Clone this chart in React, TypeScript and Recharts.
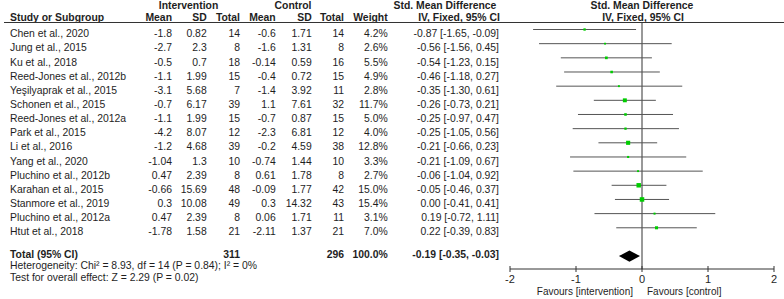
import {
  ComposedChart,
  ReferenceArea,
  ReferenceLine,
  Scatter,
  XAxis,
  YAxis,
} from "recharts";

const studyNames = [
  "Chen et al., 2020",
  "Jung et al., 2015",
  "Ku et al., 2018",
  "Reed-Jones et al., 2012b",
  "Yeşilyaprak et al., 2015",
  "Schonen et al., 2015",
  "Reed-Jones et al., 2012a",
  "Park et al., 2015",
  "Li et al., 2016",
  "Yang et al., 2020",
  "Pluchino et al., 2012b",
  "Karahan et al., 2015",
  "Stanmore et al., 2019",
  "Pluchino et al., 2012a",
  "Htut et al., 2018",
];
const intMean = [-1.8, -2.7, -0.5, -1.1, -3.1, -0.7, -1.1, -4.2, -1.2, -1.04, 0.47, -0.66, 0.3, 0.47, -1.78];
const intSD = [0.82, 2.3, 0.7, 1.99, 5.68, 6.17, 1.99, 8.07, 4.68, 1.3, 2.39, 15.69, 10.08, 2.39, 1.58];
const intN = [14, 8, 18, 15, 7, 39, 15, 12, 39, 10, 8, 48, 49, 8, 21];
const ctlMean = [-0.6, -1.6, -0.14, -0.4, -1.4, 1.1, -0.7, -2.3, -0.2, -0.74, 0.61, -0.09, 0.3, 0.06, -2.11];
const ctlSD = [1.71, 1.31, 0.59, 0.72, 3.92, 7.61, 0.87, 6.81, 4.59, 1.44, 1.78, 1.77, 14.32, 1.71, 1.37];
const ctlN = [14, 8, 16, 15, 11, 32, 15, 12, 38, 10, 8, 42, 43, 11, 21];
const weights = [4.2, 2.6, 5.5, 4.9, 2.8, 11.7, 5.0, 4.0, 12.8, 3.3, 2.7, 15.0, 15.4, 3.1, 7.0];
const smd = [-0.87, -0.56, -0.54, -0.46, -0.35, -0.26, -0.25, -0.25, -0.21, -0.21, -0.06, -0.05, 0.0, 0.19, 0.22];
const ciLow = [-1.65, -1.56, -1.23, -1.18, -1.3, -0.73, -0.97, -1.05, -0.66, -1.09, -1.04, -0.46, -0.41, -0.72, -0.39];
const ciHigh = [-0.09, 0.45, 0.15, 0.27, 0.61, 0.21, 0.47, 0.56, 0.23, 0.67, 0.92, 0.37, 0.41, 1.11, 0.83];

const totalIntN = 311;
const totalCtlN = 296;
const totalWeight = 100.0;
const totalSmd = -0.19;
const totalLow = -0.35;
const totalHigh = -0.03;

const heterogeneityText = "Heterogeneity: Chi² = 8.93, df = 14 (P = 0.84); I² = 0%";
const overallText = "Test for overall effect: Z = 2.29 (P = 0.02)";
const xTicks = [-2, -1, 0, 1, 2];

const W = 784;
const H = 299;
const FONT = "'Liberation Sans', Arial, sans-serif";
const TEXT = "#1e1e1e";
const GREEN = "#00cc00";

// row layout for the table text (matches the hidden y axis below)
const ROW0 = 29.5;
const ROW_H = 14.16;
const totalRow = studyNames.length + 1;

const points = studyNames.map((name, i) => ({
  name,
  x: smd[i],
  y: i,
  w: weights[i],
}));

const fmtCI = (m: number, lo: number, hi: number) =>
  `${m.toFixed(2)} [${lo.toFixed(2)}, ${hi.toFixed(2)}]`;

const WeightSquare = (props: any) => {
  const { cx, cy, payload } = props;
  const s = 1.15 * Math.sqrt(payload.w);
  return <rect x={cx - s / 2} y={cy - s / 2} width={s} height={s} fill={GREEN} />;
};

const Diamond = (props: any) => {
  const { x, y, width, height } = props;
  const top = Math.min(y, y + height);
  const h = Math.abs(height);
  const mid = top + h / 2;
  return (
    <polygon
      points={`${x},${mid} ${x + width / 2},${top} ${x + width},${mid} ${x + width / 2},${top + h}`}
      fill="#000"
    />
  );
};

const AxisTick = (props: any) => {
  const { x, y, payload } = props;
  return (
    <g>
      <line x1={x} x2={x} y1={y - 3} y2={y + 3} stroke="#333" />
      <text x={x} y={y + 14} textAnchor="middle" fontSize={11} fill={TEXT} fontFamily={FONT}>
        {payload.value}
      </text>
    </g>
  );
};

const cols = [172, 206.7, 240, 275.7, 311.7, 344, 387.7, 499];

const TableText = () => {
  return (
    <svg
      width={W}
      height={H}
      style={{ position: "absolute", left: 0, top: 0, pointerEvents: "none" }}
      fontFamily={FONT}
      fontSize={10.4}
      fill={TEXT}
    >
      {/* headers */}
      <g fontWeight="bold">
        <text x={188.5} y={9} textAnchor="middle">Intervention</text>
        <text x={293} y={9} textAnchor="middle">Control</text>
        <text x={445} y={9} textAnchor="middle">Std. Mean Difference</text>
        <text x={642} y={9} textAnchor="middle">Std. Mean Difference</text>
        <text x={10} y={21}>Study or Subgroup</text>
        <text x={cols[0]} y={21} textAnchor="end">Mean</text>
        <text x={cols[1]} y={21} textAnchor="end">SD</text>
        <text x={cols[2]} y={21} textAnchor="end">Total</text>
        <text x={cols[3]} y={21} textAnchor="end">Mean</text>
        <text x={cols[4]} y={21} textAnchor="end">SD</text>
        <text x={cols[5]} y={21} textAnchor="end">Total</text>
        <text x={cols[6]} y={21} textAnchor="end">Weight</text>
        <text x={459} y={21} textAnchor="middle">IV, Fixed, 95% CI</text>
        <text x={643} y={21} textAnchor="middle">IV, Fixed, 95% CI</text>
      </g>
      <line x1={4} x2={W} y1={22.5} y2={22.5} stroke="#333" strokeWidth={1} />

      {studyNames.map((name, i) => {
        const y = ROW0 + i * ROW_H + 7.7;
        const vals = [
          String(intMean[i]),
          String(intSD[i]),
          String(intN[i]),
          String(ctlMean[i]),
          String(ctlSD[i]),
          String(ctlN[i]),
          `${weights[i].toFixed(1)}%`,
          fmtCI(smd[i], ciLow[i], ciHigh[i]),
        ];
        return (
          <g key={name}>
            <text x={10} y={y}>{name}</text>
            {vals.map((v, j) => (
              <text key={j} x={cols[j]} y={y} textAnchor="end">{v}</text>
            ))}
          </g>
        );
      })}

      <g fontWeight="bold">
        <text x={10} y={258}>Total (95% CI)</text>
        <text x={cols[2]} y={258} textAnchor="end">{totalIntN}</text>
        <text x={cols[5]} y={258} textAnchor="end">{totalCtlN}</text>
        <text x={cols[6]} y={258} textAnchor="end">{`${totalWeight.toFixed(1)}%`}</text>
        <text x={cols[7]} y={258} textAnchor="end">{fmtCI(totalSmd, totalLow, totalHigh)}</text>
      </g>
      <text x={10} y={269}>{heterogeneityText}</text>
      <text x={10} y={281}>{overallText}</text>

      <text x={633} y={294.5} textAnchor="end" fontSize={10}>Favours [intervention]</text>
      <text x={647} y={294.5} fontSize={10}>Favours [control]</text>
    </svg>
  );
};

export default function App() {
  return (
    <div style={{ position: "absolute", left: 0, top: 0, width: W, height: H, background: "#fff" }}>
      <ComposedChart
        width={W}
        height={H}
        margin={{ top: 22, right: 10, bottom: 0, left: 510 }}
      >
        <XAxis
          type="number"
          dataKey="x"
          domain={[-2, 2]}
          ticks={xTicks}
          height={30}
          tickSize={0}
          tickMargin={0}
          tickLine={false}
          axisLine={{ stroke: "#333" }}
          tick={<AxisTick />}
          allowDataOverflow
        />
        <YAxis type="number" dataKey="y" domain={[-0.53, 16.91]} reversed hide width={0} allowDataOverflow />

        <ReferenceLine x={0} stroke="#333" strokeWidth={1} />

        {studyNames.map((name, i) => (
          <ReferenceLine
            key={name}
            segment={[
              { x: ciLow[i], y: i },
              { x: ciHigh[i], y: i },
            ]}
            stroke="#555"
            strokeWidth={1}
          />
        ))}

        <Scatter data={points} shape={<WeightSquare />} isAnimationActive={false} />

        <ReferenceArea
          x1={totalLow}
          x2={totalHigh}
          y1={totalRow - 0.4}
          y2={totalRow + 0.4}
          shape={<Diamond />}
        />
      </ComposedChart>
      <TableText />
    </div>
  );
}
